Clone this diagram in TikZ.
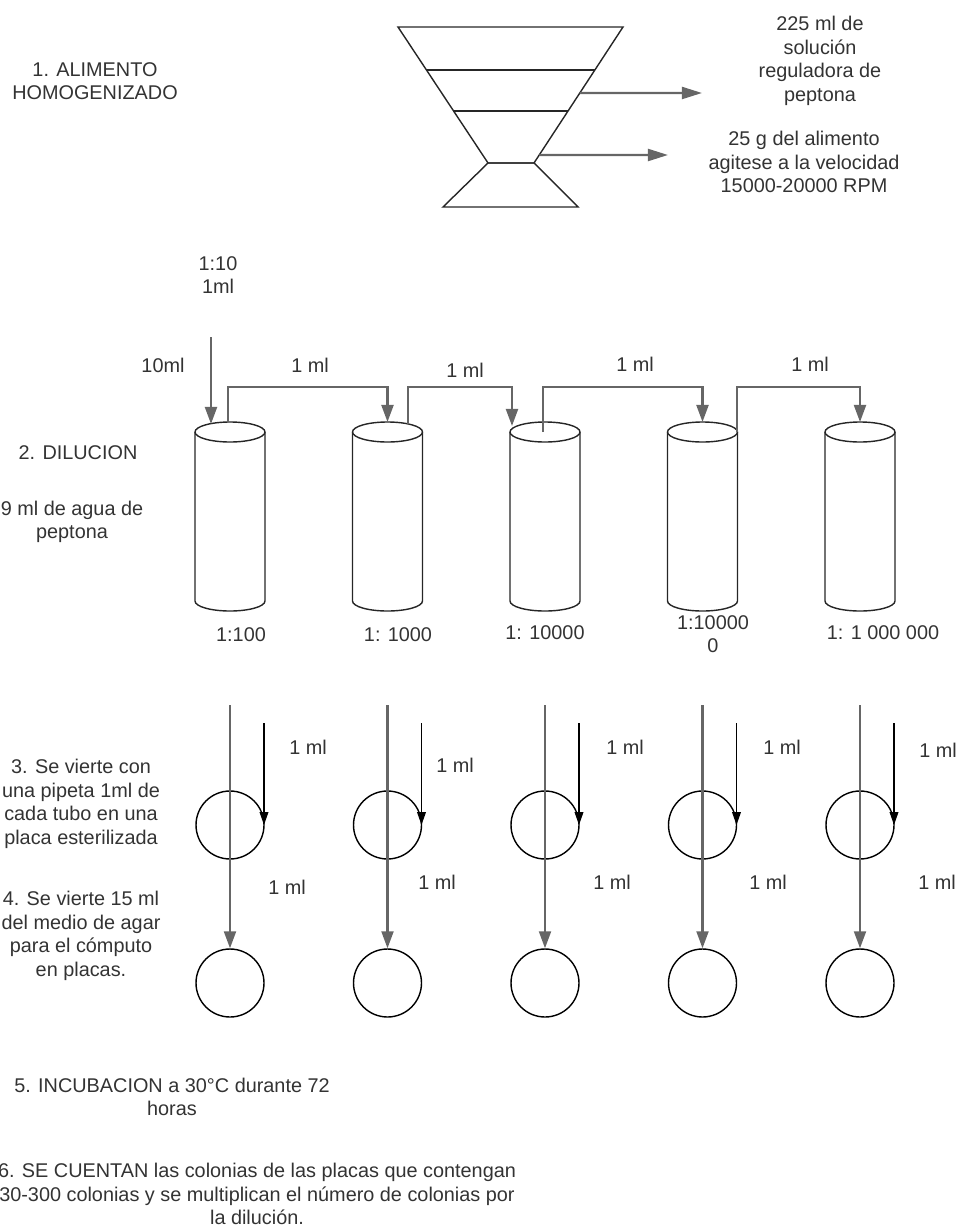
\documentclass[tikz,border=0pt]{standalone}
\usepackage{fontspec}
\setmainfont{Liberation Sans}
\usetikzlibrary{arrows.meta,calc}
\begin{document}
\begin{tikzpicture}[x=0.02cm,y=-0.02cm,
  txt/.style={font=\fontsize{11.3}{13.4}\selectfont,align=center,text=black!80,inner sep=0pt},
  linea/.style={line width=0.8pt,black!85},
  gruesa/.style={line width=1.3pt,black!60,-{Triangle[length=9.7pt,width=6.8pt]}},
  fina/.style={line width=0.7pt,black,-{Triangle[length=7.4pt,width=5pt]}},
  placa/.style={circle,draw,line width=0.8pt,minimum size=1.36cm,inner sep=0pt}]
\useasboundingbox (0,0) rectangle (960,1230);
\coordinate (v1) at (398,27); \coordinate (v2) at (623,27);
\coordinate (v3) at (534,163); \coordinate (v4) at (488,163);
\draw[linea] (v1) -- (v2) -- (v3) -- (v4) -- cycle;
\draw[linea] (v4) -- (v3) -- (578,207) -- (443,207) -- cycle;
\draw[linea] ($(v1)!0.316!(v4)$) -- ($(v2)!0.316!(v3)$);
\draw[linea] ($(v1)!0.618!(v4)$) -- ($(v2)!0.618!(v3)$);
\coordinate (s1) at ($(v2)!0.485!(v3)$); \coordinate (e1) at (702,93);
\coordinate (s2) at ($(v2)!0.941!(v3)$); \coordinate (e2) at (668,155);
\draw[gruesa,-{Triangle[length=11.4pt,width=6.8pt]}] (s1) -- (e1);
\draw[gruesa,-{Triangle[length=11.4pt,width=6.8pt]}] (s2) -- (e2);
\node[txt] (paso1) at (95,81) {1. ALIMENTO\\HOMOGENIZADO};
\node[txt] (solucion) at (820,61) {225 ml de\\solución\\reguladora de\\peptona};
\node[txt] (alimento) at (804,162) {25 g del alimento\\agitese a la velocidad\\15000-20000 RPM};
\foreach \i/\x in {1/230,2/387.5,3/545,4/702.5,5/860}{
  \draw[linea] (\x-35,432) -- (\x-35,601) arc[start angle=180,end angle=360,x radius=0.7cm,y radius=0.2cm] -- (\x+35,432);
  \draw[linea] (\x,432) ellipse[x radius=0.7cm,y radius=0.2cm];
  \coordinate (t\i) at (\x,422);
  \node[placa] (p\i) at (\x,825) {};
  \node[placa] (q\i) at (\x,983) {};
  \coordinate (a\i) at (\x,705);
  \coordinate (b\i) at (\x+34,723);
  \draw[gruesa] (a\i) -- (q\i.north);
  \draw[fina] (b\i) -- (b\i |- p\i.east);}
\node[txt] (dosis) at (218,275) {1:10\\1ml};
\node[txt] (diez) at (163,365) {10ml};
\coordinate (in1) at (211,337); \coordinate (m1) at (211,424);
\draw[gruesa] (in1) -- (m1);
\coordinate (o1) at (228,422); \coordinate (o2) at (408,424);
\coordinate (o3) at (543,432); \coordinate (o4) at (737,432);
\coordinate (m3) at (512,426);
\draw[gruesa] (o1) -- ++(0,-35) -| (t2);
\draw[gruesa] (o2) -- ++(0,-37) -| (m3);
\draw[gruesa] (o3) -- ++(0,-45) -| (t4);
\draw[gruesa] (o4) -- ++(0,-45) -| (t5);
\foreach \n/\x/\y in {r1/310/365,r2/465/370,r3/635/364,r4/810/364}
  \node[txt] (\n) at (\x,\y) {1 ml};
\node[txt] (d1) at (241,635) {1:100};
\node[txt] (d2) at (398,635) {1: 1000};
\node[txt] (d3) at (545,633) {1: 10000};
\node[txt] (d4) at (713,634) {1:10000\\0};
\node[txt] (d5) at (883,633) {1: 1 000 000};
\foreach \n/\x/\y in {u1/308/747,u2/455/765,u3/625/747,u4/782/747,u5/938/750,
                      w1/287/887,w2/437/882,w3/612/882,w4/768/882,w5/937/882}
  \node[txt] (\n) at (\x,\y) {1 ml};
\node[txt] (paso2) at (78,453) {2. DILUCION};
\node[txt] (agua) at (72,522) {9 ml de agua de\\peptona};
\node[txt] (paso3) at (81,804) {3. Se vierte con\\una pipeta 1ml de\\cada tubo en una\\placa esterilizada};
\node[txt] (paso4) at (81,936) {4. Se vierte 15 ml\\del medio de agar\\para el cómputo\\en placas.};
\node[txt] (paso5) at (172,1097) {5. INCUBACION a 30°C durante 72\\horas};
\node[txt] (paso6) at (257,1194) {6. SE CUENTAN las colonias de las placas que contengan\\30-300 colonias y se multiplican el número de colonias por\\la dilución.};
\end{tikzpicture}
\end{document}
